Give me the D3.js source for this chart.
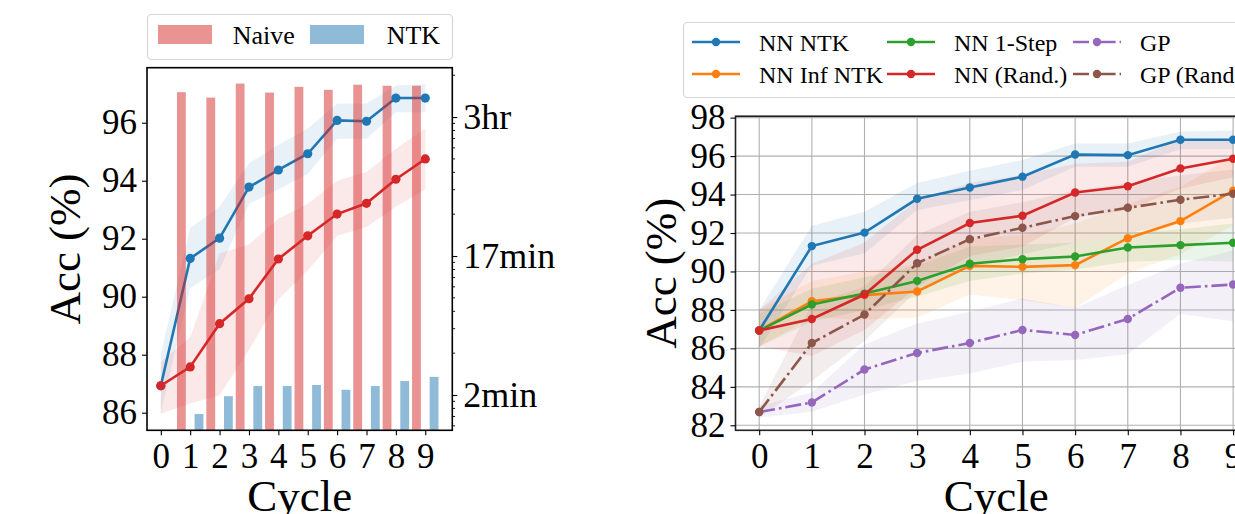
<!DOCTYPE html>
<html>
<head>
<meta charset="utf-8">
<script src="https://cdn.jsdelivr.net/npm/d3@7"></script>
<style>
  body { margin: 0; background: #fff; }
  svg { display: block; }
  svg text { font-family: "Liberation Serif", "Times New Roman", serif; fill: #000; }
</style>
</head>
<body>
<svg width="1235" height="514"></svg>
<script>
var cycles = [0, 1, 2, 3, 4, 5, 6, 7, 8, 9];
var barCycles = [1, 2, 3, 4, 5, 6, 7, 8, 9];

// left panel: selection time (seconds) per cycle
var naiveTime = [15100, 13800, 17400, 15000, 16500, 15700, 17100, 16800, 16800];
var ntkTime = [73, 98, 116, 116, 118, 109, 116, 126, 135];
var timeTicks = [100, 1000, 10000];
var timeLabels = ['2min', '17min', '3hr'];

// accuracy series (mean, low, high)
var nnNtk = [86.93, 91.32, 92.02, 93.78, 94.37, 94.93, 96.08, 96.05, 96.85, 96.85];
var nnNtkLo = [86.0, 90.3, 90.95, 93.2, 93.7, 94.24, 95.45, 95.45, 96.36, 96.36];
var nnNtkHi = [88.0, 92.37, 93.1, 94.6, 95.24, 95.8, 96.65, 96.66, 97.28, 97.33];

var leftRand = [86.93, 87.58, 89.07, 89.93, 91.3, 92.1, 92.85, 93.22, 94.05, 94.75];
var leftRandLo = [85.96, 86.32, 86.6, 88.16, 89.9, 90.9, 92.1, 92.4, 93.1, 93.7];
var leftRandHi = [87.76, 88.6, 91.5, 91.8, 92.7, 93.2, 94.0, 94.3, 95.1, 95.8];

var nnInf = [86.93, 88.45, 88.77, 88.96, 90.29, 90.24, 90.33, 91.73, 92.62, 94.2];
var nnInfLo = [86.1, 87.6, 87.5, 87.6, 88.8, 88.5, 88.1, 89.9, 90.9, 92.4];
var nnInfHi = [88.0, 89.5, 90.0, 90.4, 91.7, 91.9, 92.5, 93.5, 94.4, 96.0];

var nnStep = [86.93, 88.28, 88.85, 89.51, 90.4, 90.64, 90.78, 91.25, 91.37, 91.49];
var nnStepLo = [86.1, 87.4, 88.0, 88.7, 89.5, 89.9, 90.1, 90.5, 90.6, 90.5];
var nnStepHi = [87.8, 89.1, 89.7, 90.3, 91.3, 91.4, 91.5, 92.0, 92.2, 92.5];

var nnRand = [86.93, 87.53, 88.8, 91.13, 92.52, 92.9, 94.11, 94.43, 95.36, 95.86];
var nnRandLo = [86.1, 85.6, 86.96, 89.2, 90.8, 91.3, 92.8, 93.2, 94.3, 94.9];
var nnRandHi = [88.0, 90.4, 91.5, 93.7, 94.6, 95.0, 95.6, 95.7, 96.9, 96.9];

var gp = [82.69, 83.19, 84.9, 85.76, 86.28, 86.96, 86.7, 87.53, 89.15, 89.32];
var gpLo = [82.4, 82.7, 83.6, 84.3, 84.7, 85.3, 85.4, 85.7, 87.8, 87.4];
var gpHi = [83.0, 83.7, 86.2, 87.3, 87.9, 88.6, 88.1, 89.3, 90.4, 91.1];

var gpRand = [82.69, 86.28, 87.76, 90.43, 91.68, 92.27, 92.88, 93.31, 93.73, 94.04];
var gpRandLo = [82.4, 84.3, 86.4, 89.0, 90.3, 90.9, 91.5, 92.0, 92.5, 92.8];
var gpRandHi = [83.0, 88.3, 89.2, 91.9, 93.1, 93.6, 94.2, 94.6, 95.0, 95.3];

var leftYTicks = [86, 88, 90, 92, 94, 96];
var rightYTicks = [82, 84, 86, 88, 90, 92, 94, 96, 98];

var SERIF = '"Liberation Serif", "Times New Roman", serif';
var FONT_TICK = 35;
var svg = d3.select('svg');

function styleAxis(g, size) {
  g.attr('font-family', SERIF);
  g.select('.domain').remove();
  g.selectAll('line').attr('stroke', '#000').attr('stroke-width', 1.1);
  g.selectAll('text').attr('fill', '#000').attr('font-family', SERIF)
    .style('font-size', size + 'px');
}

function label(g, txt, size) {
  return g.append('text').attr('font-family', SERIF)
    .style('font-size', size + 'px').text(txt);
}

function band(g, x, y, lo, hi, color, alpha) {
  var area = d3.area()
    .x(function (d, i) { return x(cycles[i]); })
    .y0(function (d, i) { return y(lo[i]); })
    .y1(function (d, i) { return y(hi[i]); });
  g.append('path').datum(lo).attr('d', area)
    .attr('fill', color).attr('fill-opacity', alpha);
}

function series(g, x, y, vals, color, r, dash) {
  var line = d3.line()
    .x(function (d, i) { return x(cycles[i]); })
    .y(function (d) { return y(d); });
  g.append('path').datum(vals).attr('d', line)
    .attr('fill', 'none').attr('stroke', color).attr('stroke-width', 2.6)
    .attr('stroke-dasharray', dash || null);
  g.selectAll(null).data(vals).enter().append('circle')
    .attr('cx', function (d, i) { return x(cycles[i]); })
    .attr('cy', function (d) { return y(d); })
    .attr('r', r).attr('fill', color);
}

// ---------- left panel ----------
var L = { left: 147, right: 452.3, top: 67.7, bottom: 430.3 };
var lx = d3.scaleLinear().domain([-0.47, 9.92]).range([L.left, L.right]);
var ly = d3.scaleLinear().domain([85.393, 97.897]).range([L.bottom, L.top]);
var ly2 = d3.scaleLog().domain([55.7, 22650]).range([L.bottom, L.top]);

var left = svg.append('g');
band(left, lx, ly, nnNtkLo, nnNtkHi, '#1f77b4', 0.1);
band(left, lx, ly, leftRandLo, leftRandHi, '#d62728', 0.1);
series(left, lx, ly, nnNtk, '#1f77b4', 4.6);
series(left, lx, ly, leftRand, '#d62728', 4.6);

// timing bars on the twin (log) axis, drawn over the lines
var bw = lx(0.3) - lx(0);
left.selectAll('.naive').data(naiveTime).enter().append('rect')
  .attr('x', function (d, i) { return lx(barCycles[i] - 0.3) - bw / 2; })
  .attr('y', function (d) { return ly2(d); })
  .attr('width', bw)
  .attr('height', function (d) { return L.bottom - ly2(d); })
  .attr('fill', '#d62728').attr('fill-opacity', 0.5);
left.selectAll('.ntk').data(ntkTime).enter().append('rect')
  .attr('x', function (d, i) { return lx(barCycles[i] + 0.3) - bw / 2; })
  .attr('y', function (d) { return ly2(d); })
  .attr('width', bw)
  .attr('height', function (d) { return L.bottom - ly2(d); })
  .attr('fill', '#1f77b4').attr('fill-opacity', 0.5);

left.append('rect')
  .attr('x', L.left).attr('y', L.top)
  .attr('width', L.right - L.left).attr('height', L.bottom - L.top)
  .attr('fill', 'none').attr('stroke', '#000').attr('stroke-width', 1.6);

left.append('g').attr('transform', 'translate(0,' + L.bottom + ')')
  .call(d3.axisBottom(lx).tickValues(cycles).tickFormat(d3.format('d'))
    .tickSize(5).tickPadding(8))
  .call(styleAxis, FONT_TICK);
left.append('g').attr('transform', 'translate(' + L.left + ',0)')
  .call(d3.axisLeft(ly).tickValues(leftYTicks).tickFormat(d3.format('d'))
    .tickSize(5).tickPadding(5))
  .call(styleAxis, FONT_TICK);

// log minor ticks from the scale's own domain
var minor = [];
ly2.ticks().forEach(function (t) {
  if (timeTicks.indexOf(t) < 0) minor.push(t);
});
var rAxis = left.append('g').attr('transform', 'translate(' + L.right + ',0)');
rAxis.call(d3.axisRight(ly2).tickValues(timeTicks)
    .tickFormat(function (d, i) { return timeLabels[i]; })
    .tickSize(5).tickPadding(6))
  .call(styleAxis, 36);
rAxis.selectAll('.minor').data(minor).enter().append('line')
  .attr('x1', 0).attr('x2', 2.8)
  .attr('y1', function (d) { return ly2(d); })
  .attr('y2', function (d) { return ly2(d); })
  .attr('stroke', '#000').attr('stroke-width', 0.9);

label(left, 'Cycle', 45).attr('x', (L.left + L.right) / 2).attr('y', 511)
  .attr('text-anchor', 'middle');
label(left, 'Acc (%)', 45)
  .attr('transform', 'translate(80,' + (L.top + L.bottom) / 2 + ') rotate(-90)')
  .attr('text-anchor', 'middle');

// left legend
var lg = left.append('g');
lg.append('rect').attr('x', 147.5).attr('y', 14.5).attr('width', 305).attr('height', 45)
  .attr('rx', 4).attr('fill', '#fff').attr('fill-opacity', 0.8)
  .attr('stroke', '#d6d6d6').attr('stroke-width', 1.2);
var barLegend = [['Naive', '#d62728', 158, 232.7], ['NTK', '#1f77b4', 310, 386.7]];
barLegend.forEach(function (e) {
  lg.append('rect').attr('x', e[2]).attr('y', 25).attr('width', 54).attr('height', 19)
    .attr('fill', e[1]).attr('fill-opacity', 0.5);
  label(lg, e[0], 26).attr('x', e[3]).attr('y', 44);
});

// ---------- right panel ----------
var R = { left: 735.5, right: 1256.8, top: 116.2, bottom: 430.3 };
var rx = d3.scaleLinear().domain([-0.45, 9.45]).range([R.left, R.right]);
var ry = d3.scaleLinear().domain([81.74, 98.075]).range([R.bottom, R.top]);

var right = svg.append('g');

// grid
right.selectAll('.gx').data(cycles).enter().append('line')
  .attr('x1', function (d) { return rx(d); }).attr('x2', function (d) { return rx(d); })
  .attr('y1', R.top).attr('y2', R.bottom)
  .attr('stroke', '#b0b0b0').attr('stroke-width', 1.1);
right.selectAll('.gy').data(rightYTicks).enter().append('line')
  .attr('y1', function (d) { return ry(d); }).attr('y2', function (d) { return ry(d); })
  .attr('x1', R.left).attr('x2', R.right)
  .attr('stroke', '#b0b0b0').attr('stroke-width', 1.1);

var rightSeries = [
  { name: 'NN NTK', v: nnNtk, lo: nnNtkLo, hi: nnNtkHi, c: '#1f77b4', dash: null },
  { name: 'NN Inf NTK', v: nnInf, lo: nnInfLo, hi: nnInfHi, c: '#ff7f0e', dash: null },
  { name: 'NN 1-Step', v: nnStep, lo: nnStepLo, hi: nnStepHi, c: '#2ca02c', dash: null },
  { name: 'NN (Rand.)', v: nnRand, lo: nnRandLo, hi: nnRandHi, c: '#d62728', dash: null },
  { name: 'GP', v: gp, lo: gpLo, hi: gpHi, c: '#9467bd', dash: '16,4,2.6,4' },
  { name: 'GP (Rand.)', v: gpRand, lo: gpRandLo, hi: gpRandHi, c: '#8c564b', dash: '16,4,2.6,4' }
];
rightSeries.forEach(function (s) {
  band(right, rx, ry, s.lo, s.hi, s.c, 0.1);
});
rightSeries.forEach(function (s) {
  series(right, rx, ry, s.v, s.c, 4.2, s.dash);
});

right.append('rect')
  .attr('x', R.left).attr('y', R.top)
  .attr('width', R.right - R.left).attr('height', R.bottom - R.top)
  .attr('fill', 'none').attr('stroke', '#222').attr('stroke-width', 1.6);

right.append('g').attr('transform', 'translate(0,' + R.bottom + ')')
  .call(d3.axisBottom(rx).tickValues(cycles).tickFormat(d3.format('d'))
    .tickSize(5).tickPadding(8))
  .call(styleAxis, FONT_TICK);
right.append('g').attr('transform', 'translate(' + R.left + ',0)')
  .call(d3.axisLeft(ry).tickValues(rightYTicks).tickFormat(d3.format('d'))
    .tickSize(5).tickPadding(5))
  .call(styleAxis, FONT_TICK);

label(right, 'Cycle', 45).attr('x', (R.left + R.right) / 2).attr('y', 511)
  .attr('text-anchor', 'middle');
label(right, 'Acc (%)', 45)
  .attr('transform', 'translate(676,' + (R.top + R.bottom) / 2 + ') rotate(-90)')
  .attr('text-anchor', 'middle');

// right legend (3 columns, filled column-wise)
var rg = right.append('g');
rg.append('rect').attr('x', 683.5).attr('y', 22.5).attr('width', 625).attr('height', 75)
  .attr('rx', 4).attr('fill', '#fff').attr('fill-opacity', 0.8)
  .attr('stroke', '#d6d6d6').attr('stroke-width', 1.2);
var colX = [692, 887, 1073];
var rowY = [42, 74];
rightSeries.forEach(function (s, i) {
  var cx = colX[Math.floor(i / 2)];
  var cy = rowY[i % 2];
  rg.append('line').attr('x1', cx).attr('x2', cx + 48).attr('y1', cy).attr('y2', cy)
    .attr('stroke', s.c).attr('stroke-width', 2.6).attr('stroke-dasharray', s.dash);
  rg.append('circle').attr('cx', cx + 24).attr('cy', cy).attr('r', 4.2).attr('fill', s.c);
  label(rg, s.name, 24).attr('x', cx + 67).attr('y', cy + 8.5);
});
</script>
</body>
</html>
